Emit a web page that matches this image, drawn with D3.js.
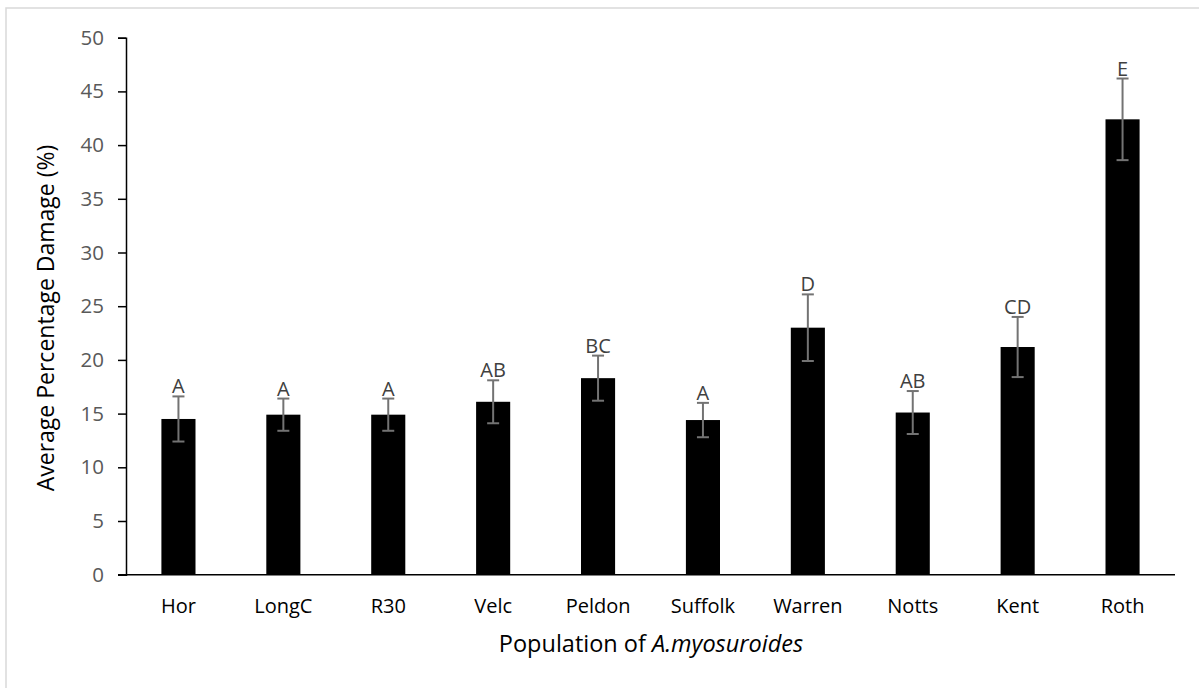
<!DOCTYPE html>
<html>
<head>
<meta charset="utf-8">
<script src="https://cdn.jsdelivr.net/npm/d3@7"></script>
<style>
  html, body { margin: 0; padding: 0; background: #fff; }
  svg { display: block; font-family: "Open Sans", "Noto Sans", sans-serif; }
</style>
</head>
<body>
<svg id="chart" width="1199" height="688"></svg>
<script>
// Populations of A. myosuroides and their average percentage damage
const categories = ["Hor", "LongC", "R30", "Velc", "Peldon", "Suffolk", "Warren", "Notts", "Kent", "Roth"];
const means      = [14.5, 14.9, 14.9, 16.1, 18.3, 14.4, 23.0, 15.1, 21.2, 42.4];
const errors     = [2.1, 1.5, 1.5, 2.0, 2.1, 1.6, 3.1, 2.0, 2.8, 3.8];
const letters    = ["A", "A", "A", "AB", "BC", "A", "D", "AB", "CD", "E"];
const yTicks     = [0, 5, 10, 15, 20, 25, 30, 35, 40, 45, 50];

const rows = categories.map((c, i) => ({ cat: c, mean: means[i], err: errors[i], letter: letters[i] }));

const svg = d3.select("#chart");
const W = 1199, H = 688;
const plot = { left: 126, right: 1175, top: 37.7, bottom: 574.7 };

// outer chart frame
svg.append("rect")
  .attr("x", 6).attr("y", 8)
  .attr("width", W + 10).attr("height", H + 10)
  .attr("fill", "#fff")
  .attr("stroke", "#d9d9d9").attr("stroke-width", 1.5);

const x = d3.scaleBand()
  .domain(categories)
  .range([plot.left, plot.right])
  .paddingInner(0.675)
  .paddingOuter(0.3375);

const y = d3.scaleLinear()
  .domain([0, 50])
  .range([plot.bottom, plot.top]);

// bars
svg.append("g").selectAll("rect")
  .data(rows)
  .join("rect")
  .attr("x", d => x(d.cat))
  .attr("y", d => y(d.mean))
  .attr("width", x.bandwidth())
  .attr("height", d => y(0) - y(d.mean))
  .attr("fill", "#000");

// error bars
const eb = svg.append("g")
  .attr("stroke", "#737373")
  .attr("stroke-width", 2)
  .attr("fill", "none");
const cx = d => x(d.cat) + x.bandwidth() / 2;
const capHalf = 6;
eb.selectAll("line.v")
  .data(rows).join("line").attr("class", "v")
  .attr("x1", cx).attr("x2", cx)
  .attr("y1", d => y(d.mean - d.err)).attr("y2", d => y(d.mean + d.err));
eb.selectAll("line.top")
  .data(rows).join("line").attr("class", "top")
  .attr("x1", d => cx(d) - capHalf).attr("x2", d => cx(d) + capHalf)
  .attr("y1", d => y(d.mean + d.err)).attr("y2", d => y(d.mean + d.err));
eb.selectAll("line.bot")
  .data(rows).join("line").attr("class", "bot")
  .attr("x1", d => cx(d) - capHalf).attr("x2", d => cx(d) + capHalf)
  .attr("y1", d => y(d.mean - d.err)).attr("y2", d => y(d.mean - d.err));

// significance letters
svg.append("g").selectAll("text")
  .data(rows)
  .join("text")
  .attr("x", cx)
  .attr("y", d => y(d.mean + d.err) - 3)
  .attr("text-anchor", "middle")
  .attr("font-size", 20)
  .attr("fill", "#404040")
  .text(d => d.letter);

// y axis
const yAxis = d3.axisLeft(y).tickValues(yTicks).tickSize(8).tickPadding(14).tickFormat(d3.format("d"));
const gy = svg.append("g")
  .attr("transform", `translate(${plot.left},0)`)
  .call(yAxis);
gy.select(".domain").attr("stroke", "#000").attr("stroke-width", 1.5);
gy.selectAll(".tick line").attr("stroke", "#000").attr("stroke-width", 1.5);
gy.selectAll(".tick text")
  .attr("font-family", "Open Sans, Noto Sans, sans-serif")
  .attr("font-size", 20.5)
  .attr("fill", "#595959");

// x axis
const xAxis = d3.axisBottom(x).tickSize(0).tickPadding(24);
const gx = svg.append("g")
  .attr("transform", `translate(0,${plot.bottom})`)
  .call(xAxis);
gx.select(".domain").attr("stroke", "#000").attr("stroke-width", 1.5)
  .attr("d", `M${plot.left - 8},0H${plot.right}`);
gx.selectAll(".tick text")
  .attr("font-family", "Open Sans, Noto Sans, sans-serif")
  .attr("font-size", 20)
  .attr("fill", "#000");

// axis titles
const xTitle = svg.append("text")
  .attr("x", 651).attr("y", 652)
  .attr("text-anchor", "middle")
  .attr("font-size", 23.5)
  .attr("fill", "#000");
xTitle.append("tspan").text("Population of ");
xTitle.append("tspan").attr("font-style", "italic").text("A.myosuroides");

svg.append("text")
  .attr("transform", "translate(54,318) rotate(-90)")
  .attr("text-anchor", "middle")
  .attr("font-size", 23)
  .attr("fill", "#000")
  .text("Average Percentage Damage (%)");
</script>
</body>
</html>
